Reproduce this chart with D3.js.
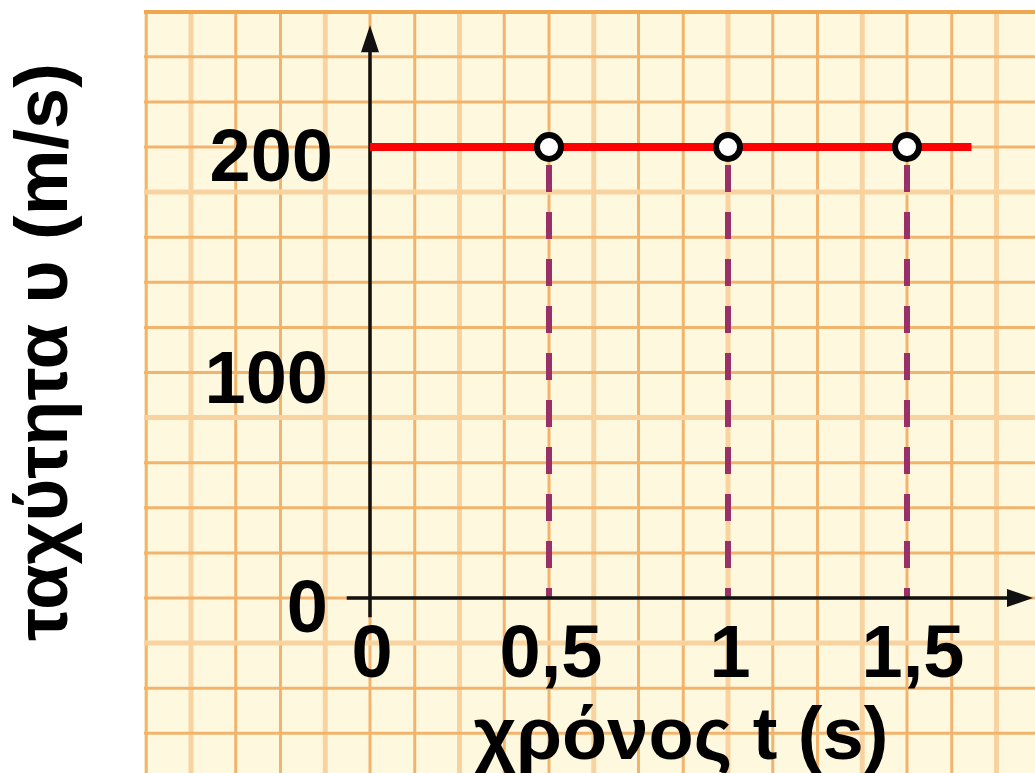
<!DOCTYPE html>
<html>
<head>
<meta charset="utf-8">
<script src="https://cdn.jsdelivr.net/npm/d3@7"></script>
<style>
  html, body { margin: 0; padding: 0; background: #ffffff; }
  svg { display: block; }
</style>
</head>
<body>
<div id="chart"></div>
<script>
// data
var times = [0.5, 1, 1.5];            // marked instants (s)
var speeds = [200, 200, 200];         // speed at those instants (m/s)
var lineTimes = [0, 1.68];            // red constant line extent (s)
var lineSpeed = 200;
var xTickValues = [0, 0.5, 1, 1.5];
var xTickLabels = ['0', '0,5', '1', '1,5'];
var yTickValues = [0, 100, 200];
var yTickLabels = ['0', '100', '200'];
var xTitle = 'χρόνος t (s)';
var yTitle = 'ταχύτητα υ (m/s)';

function draw() {
    var width = 1035;
    var height = 773;
    var paper = { left: 144, top: 10 };
    var font = '"Liberation Sans", Arial, sans-serif';

    var x = d3.scaleLinear().domain([0, 1.5]).range([370, 907]);
    var y = d3.scaleLinear().domain([0, 200]).range([598, 147]);

    var svg = d3.select('#chart')
        .append('svg')
        .attr('width', width)
        .attr('height', height);

    // graph paper
    svg.append('rect')
        .attr('x', paper.left)
        .attr('y', paper.top)
        .attr('width', width - paper.left)
        .attr('height', height - paper.top)
        .attr('fill', '#fef8df');

    var gridX = d3.range(-5, 15).map(function(i) { return i * 0.125; });
    var gridY = d3.range(-3, 14).map(function(i) { return i * 20; });

    var grid = svg.append('g').attr('id', 'grid');
    grid.selectAll('line.vgrid').data(gridX).enter()
        .append('line')
        .attr('class', 'vgrid')
        .attr('x1', function(d) { return x(d); })
        .attr('x2', function(d) { return x(d); })
        .attr('y1', paper.top)
        .attr('y2', height)
        .attr('stroke', function(d, i) { return i % 3 == 1 ? '#f8d3a0' : '#f2b46c'; })
        .attr('stroke-width', function(d, i) { return i % 3 == 1 ? 5 : 3; });
    grid.selectAll('line.hgrid').data(gridY).enter()
        .append('line')
        .attr('class', 'hgrid')
        .attr('x1', paper.left)
        .attr('x2', width)
        .attr('y1', function(d) { return y(d); })
        .attr('y2', function(d) { return y(d); })
        .attr('stroke', function(d) { return (d + 20) % 100 == 0 ? '#f8d3a0' : '#f2b46c'; })
        .attr('stroke-width', function(d) { return (d + 20) % 100 == 0 ? 5 : 3; });
    grid.append('line')
        .attr('x1', paper.left).attr('x2', width)
        .attr('y1', paper.top + 2).attr('y2', paper.top + 2)
        .attr('stroke', '#f0a850')
        .attr('stroke-width', 4);

    // dashed drop lines
    svg.append('g').selectAll('line.drop').data(times).enter()
        .append('line')
        .attr('class', 'drop')
        .attr('x1', function(d) { return x(d); })
        .attr('x2', function(d) { return x(d); })
        .attr('y1', function(d, i) { return y(speeds[i]) + 18; })
        .attr('y2', y(0))
        .attr('stroke', '#9a3068')
        .attr('stroke-width', 6)
        .attr('stroke-dasharray', '27 20');

    // axes with arrows
    var axes = svg.append('g').attr('id', 'axes');
    axes.append('line')
        .attr('x1', x(-0.065)).attr('x2', x(1.82))
        .attr('y1', y(0)).attr('y2', y(0))
        .attr('stroke', '#111').attr('stroke-width', 3.5);
    axes.append('line')
        .attr('x1', x(0)).attr('x2', x(0))
        .attr('y1', y(-8.5)).attr('y2', y(246))
        .attr('stroke', '#111').attr('stroke-width', 3.5);
    var tipX = x(1.852);
    axes.append('path')
        .attr('d', 'M' + tipX + ',' + y(0) + 'L' + (tipX - 26) + ',' + (y(0) - 9) + 'L' + (tipX - 26) + ',' + (y(0) + 9) + 'Z')
        .attr('fill', '#111');
    var tipY = y(254);
    axes.append('path')
        .attr('d', 'M' + x(0) + ',' + tipY + 'L' + (x(0) - 9) + ',' + (tipY + 27) + 'L' + (x(0) + 9) + ',' + (tipY + 27) + 'Z')
        .attr('fill', '#111');

    // constant speed line
    var line = d3.line()
        .x(function(d) { return x(d); })
        .y(function() { return y(lineSpeed); });
    svg.append('path')
        .datum(lineTimes)
        .attr('d', line)
        .attr('fill', 'none')
        .attr('stroke', '#ff0000')
        .attr('stroke-width', 8);

    // points
    svg.append('g').selectAll('circle').data(times).enter()
        .append('circle')
        .attr('cx', function(d) { return x(d); })
        .attr('cy', function(d, i) { return y(speeds[i]); })
        .attr('r', 12)
        .attr('fill', '#ffffff')
        .attr('stroke', '#000')
        .attr('stroke-width', 6);

    // tick labels
    svg.append('g').selectAll('text.xtick').data(xTickValues).enter()
        .append('text')
        .attr('class', 'xtick')
        .attr('x', function(d) { return x(d) + (d == 1.5 ? 6 : 2); })
        .attr('y', 677)
        .attr('text-anchor', 'middle')
        .text(function(d, i) { return xTickLabels[i]; });
    svg.append('g').selectAll('text.ytick').data(yTickValues).enter()
        .append('text')
        .attr('class', 'ytick')
        .attr('x', function(d) { return d == 200 ? 333 : 328; })
        .attr('y', function(d) { return y(d) + (d == 100 ? 30 : 34); })
        .attr('text-anchor', 'end')
        .text(function(d, i) { return yTickLabels[i]; });

    // titles
    svg.append('text')
        .attr('x', 681)
        .attr('y', 759)
        .attr('text-anchor', 'middle')
        .text(xTitle);
    svg.append('text')
        .attr('transform', 'translate(67, 352) rotate(-90)')
        .attr('text-anchor', 'middle')
        .text(yTitle);

    svg.selectAll('text')
        .style('font-family', font)
        .style('font-weight', 700)
        .style('font-size', '74px')
        .attr('fill', '#000');
}

draw();
</script>
</body>
</html>
